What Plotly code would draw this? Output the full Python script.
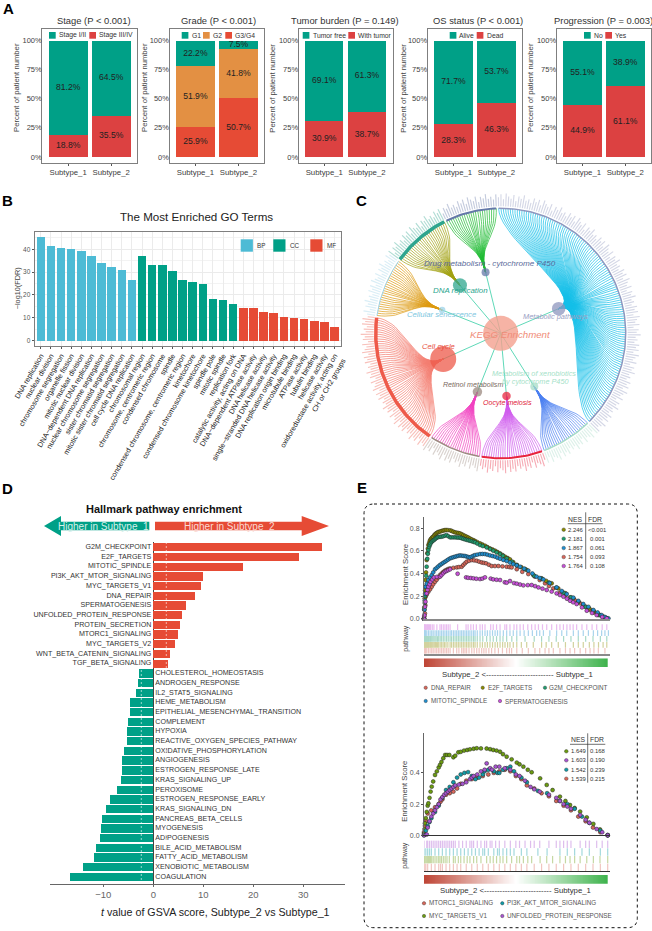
import math
import numpy as np
import plotly.graph_objects as go

W, H = 652, 931
FONT = "Liberation Sans, Arial, sans-serif"

# ---------- Panel A data ----------
subtypes = ["Subtype_1", "Subtype_2"]
a_titles = ["Stage (P < 0.001)", "Grade (P < 0.001)", "Tumor burden (P = 0.149)", "OS status (P < 0.001)", "Progression (P = 0.003)"]
a_title_x = [93.5, 218.7, 345, 477.5, 603.5]
stage_low = [81.2, 64.5]
stage_high = [18.8, 35.5]
grade_g1 = [22.2, 7.5]
grade_g2 = [51.9, 41.8]
grade_g3 = [25.9, 50.7]
tumor_free = [69.1, 61.3]
tumor_with = [30.9, 38.7]
os_alive = [71.7, 53.7]
os_dead = [28.3, 46.3]
prog_no = [55.1, 38.9]
prog_yes = [44.9, 61.1]

# ---------- Panel B data ----------
bp_terms = ["DNA replication", "nuclear division", "chromosome segregation", "organelle fission", "mitotic nuclear division",
            "DNA−dependent DNA replication", "nuclear chromosome segregation", "sister chromatid segregation",
            "mitotic sister chromatid segregation", "cell cycle DNA replication"]
bp_values = [45.5, 41.4, 40.6, 40.0, 39.3, 37.0, 34.1, 32.3, 30.8, 26.5]
cc_terms = ["chromosomal region", "chromosome, centromeric region", "condensed chromosome", "spindle",
            "condensed chromosome, centromeric region", "kinetochore", "condensed chromosome kinetochore",
            "spindle pole", "mitotic spindle", "replication fork"]
cc_values = [37.0, 33.0, 33.0, 30.7, 26.7, 25.7, 25.0, 18.2, 18.0, 16.0]
mf_terms = ["catalytic activity, acting on DNA", "DNA−dependent ATPase activity", "DNA helicase activity",
            "single−stranded DNA helicase activity", "DNA replication origin binding", "microtubule binding",
            "ATPase activity", "tubulin binding", "helicase activity",
            "oxidoreductase activity, acting on<br>CH or CH2 groups"]
mf_values = [14.5, 14.5, 12.5, 12.2, 10.2, 10.0, 9.5, 8.5, 8.0, 6.0]

# ---------- Panel C data ----------
kegg_names = ["Metabolic pathways", "Metabolism of xenobiotics", "Oocyte meiosis", "Retinol metabolism", "Cell cycle",
              "Cellular senescence", "DNA replication", "Drug metabolism - cytochrome P450"]
kegg_genes = [127, 23, 27, 23, 59, 26, 26, 23]
kegg_node_px = [13.5, 8, 8.5, 9.5, 26, 6.5, 14, 8]
kegg_ring = ["#8E96BE", "#A7DCC7", "#E8253D", "#9C8A80", "#EE5A4A", "#9CD3E8", "#2EA58E", "#6478A8"]
kegg_fan = ["#12BEE8", "#4A80F0", "#D05CEE", "#F040C0", "#F47C70", "#DC9A10", "#A0A010", "#20BC34"]
kegg_ring_w = [1.5, 1.5, 2, 1.5, 3.5, 1, 3.5, 2]
gene_tip_px = [9, 12, 7, 13, 10, 8, 12, 6, 11, 9, 13, 8, 10, 7, 12]

# ---------- Panel D data ----------
up_paths = ["G2M_CHECKPOINT", "E2F_TARGETS", "MITOTIC_SPINDLE", "PI3K_AKT_MTOR_SIGNALING", "MYC_TARGETS_V1", "DNA_REPAIR",
            "SPERMATOGENESIS", "UNFOLDED_PROTEIN_RESPONSE", "PROTEIN_SECRETION", "MTORC1_SIGNALING", "MYC_TARGETS_V2",
            "WNT_BETA_CATENIN_SIGNALING", "TGF_BETA_SIGNALING"]
up_t = [33.8, 29.2, 17.9, 9.9, 9.5, 8.4, 6.5, 5.8, 5.3, 5.0, 4.4, 3.4, 2.9]
down_paths = ["CHOLESTEROL_HOMEOSTASIS", "ANDROGEN_RESPONSE", "IL2_STAT5_SIGNALING", "HEME_METABOLISM",
              "EPITHELIAL_MESENCHYMAL_TRANSITION", "COMPLEMENT", "HYPOXIA", "REACTIVE_OXYGEN_SPECIES_PATHWAY",
              "OXIDATIVE_PHOSPHORYLATION", "ANGIOGENESIS", "ESTROGEN_RESPONSE_LATE", "KRAS_SIGNALING_UP", "PEROXISOME",
              "ESTROGEN_RESPONSE_EARLY", "KRAS_SIGNALING_DN", "PANCREAS_BETA_CELLS", "MYOGENESIS", "ADIPOGENESIS",
              "BILE_ACID_METABOLISM", "FATTY_ACID_METABOLISM", "XENOBIOTIC_METABOLISM", "COAGULATION"]
down_t = [-2.8, -3.1, -3.5, -4.7, -4.7, -5.05, -5.25, -5.25, -5.9, -6.2, -6.3, -6.4, -7.25, -8.6, -9.45, -10.25, -10.4,
          -10.6, -11.5, -11.8, -14.05, -16.65]
t_cutoffs = [-2.4, 2.6]

# ---------- Panel E data (rank fraction, enrichment score) ----------
e2f_targets = [(0, 0), (.002, .1), (.004, .18), (.006, .25), (.009, .342), (.011, .41), (.0145, .519), (.018, .58), (.021, .62), (.024, .652),
    (.028, .67), (.032, .69), (.036, .702), (.04, .71), (.045, .72), (.05, .726), (.056, .74), (.062, .75), (.068, .757), (.074, .764), (.08, .768),
    (.088, .772), (.096, .776), (.104, .78), (.112, .783), (.12, .785), (.13, .784), (.142, .782), (.15, .777), (.16, .77), (.169, .764), (.178, .761),
    (.187, .758), (.196, .755), (.205, .747), (.214, .74), (.223, .732), (.232, .725), (.241, .718), (.25, .71), (.26, .702), (.27, .694), (.278, .687),
    (.29, .678), (.305, .667), (.318, .656), (.332, .646), (.345, .634), (.359, .622), (.373, .612), (.387, .602), (.4, .59), (.414, .578), (.428, .563),
    (.441, .549), (.455, .537), (.468, .525), (.486, .5), (.505, .475), (.53, .455), (.559, .431), (.595, .386), (.64, .357), (.665, .335), (.695, .313),
    (.731, .268), (.77, .225), (.813, .18), (.84, .15), (.867, .12), (.9, .09), (.925, .065), (.95, .04), (.975, .02), (.995, .003)]
g2m_checkpoint = [(0, 0), (.002, .08), (.004, .14), (.006, .2), (.009, .283), (.012, .38), (.0145, .46), (.018, .53), (.021, .575), (.024, .608),
    (.028, .635), (.032, .652), (.036, .667), (.042, .68), (.048, .69), (.054, .696), (.06, .705), (.066, .713), (.073, .72), (.08, .723), (.088, .725),
    (.096, .726), (.105, .73), (.114, .735), (.123, .74), (.132, .73), (.142, .72), (.15, .72), (.16, .72), (.169, .72), (.178, .719), (.187, .718),
    (.196, .717), (.205, .712), (.214, .707), (.223, .702), (.232, .698), (.241, .694), (.25, .69), (.26, .685), (.27, .68), (.278, .676), (.29, .665),
    (.305, .652), (.32, .643), (.341, .631), (.36, .616), (.377, .602), (.395, .587), (.414, .572), (.43, .556), (.45, .534), (.478, .505), (.505, .475),
    (.55, .44), (.6, .38), (.64, .355), (.68, .32), (.72, .275), (.76, .23), (.8, .19), (.84, .15), (.88, .105), (.92, .07), (.96, .03), (.995, .005)]
mitotic_spindle = [(0, 0), (.002, .08), (.004, .16), (.006, .22), (.009, .283), (.015, .31), (.024, .342), (.033, .365), (.042, .386), (.05, .41), (.06, .437),
    (.069, .45), (.078, .463), (.087, .475), (.096, .485), (.105, .495), (.114, .504), (.123, .514), (.132, .524), (.142, .534), (.15, .539), (.16, .544),
    (.169, .549), (.178, .553), (.187, .557), (.196, .56), (.205, .558), (.214, .556), (.223, .555), (.232, .55), (.241, .546), (.25, .543), (.26, .55),
    (.27, .558), (.278, .563), (.29, .567), (.305, .572), (.318, .573), (.332, .572), (.345, .567), (.359, .56), (.373, .555), (.387, .549), (.4, .54),
    (.414, .531), (.432, .52), (.45, .51), (.468, .497), (.486, .484), (.505, .472), (.523, .46), (.545, .443), (.568, .425), (.59, .4), (.613, .372),
    (.63, .36), (.65, .348), (.685, .315), (.722, .277), (.75, .245), (.777, .218), (.813, .186), (.84, .158), (.867, .13), (.895, .105), (.922, .077),
    (.945, .055), (.967, .032), (.985, .015), (1.004, .003)]
dna_repair = [(0, 0), (.002, .02), (.005, .047), (.007, .12), (.009, .195), (.015, .215), (.024, .239), (.033, .26), (.042, .283), (.05, .305), (.06, .327),
    (.069, .345), (.078, .365), (.087, .386), (.096, .4), (.105, .413), (.114, .425), (.123, .432), (.132, .44), (.142, .445), (.16, .45), (.178, .454),
    (.19, .457), (.205, .46), (.214, .475), (.223, .49), (.232, .504), (.245, .512), (.26, .519), (.273, .516), (.287, .513), (.3, .505), (.314, .498),
    (.326, .494), (.338, .49), (.353, .478), (.368, .466), (.386, .466), (.405, .466), (.427, .463), (.45, .46), (.465, .457), (.477, .454), (.505, .438),
    (.535, .415), (.568, .395), (.604, .372), (.63, .342), (.659, .313), (.68, .29), (.704, .268), (.74, .23), (.77, .208), (.795, .189), (.82, .165),
    (.85, .136), (.88, .105), (.904, .077), (.925, .055), (.949, .032), (.985, .012)]
spermatogenesis = [(0, 0), (.002, .03), (.005, .106), (.008, .15), (.0145, .224), (.019, .255), (.024, .283), (.03, .305), (.036, .327), (.045, .347), (.054, .366),
    (.07, .37), (.087, .372), (.095, .385), (.105, .402), (.114, .416), (.123, .423), (.132, .43), (.142, .437), (.183, .398), (.229, .366), (.24, .362),
    (.255, .36), (.269, .357), (.285, .354), (.305, .351), (.318, .355), (.332, .366), (.363, .355), (.377, .348), (.395, .345), (.414, .342), (.44, .322),
    (.45, .319), (.468, .333), (.49, .315), (.505, .31), (.523, .302), (.541, .295), (.565, .297), (.586, .298), (.605, .288), (.623, .277), (.645, .266),
    (.668, .254), (.695, .24), (.722, .224), (.74, .21), (.759, .195), (.778, .177), (.795, .159), (.812, .145), (.831, .13), (.86, .1), (.886, .071),
    (.915, .05), (.94, .032), (.97, .015), (.995, .003)]

myc_targets_v1 = [(0, .01), (.003, .04), (.005, .077), (.01, .11), (.015, .15), (.02, .19), (.024, .205), (.03, .24), (.036, .28),
    (.042, .312), (.05, .345), (.06, .387), (.07, .41), (.08, .435), (.087, .451), (.095, .47), (.105, .494), (.115, .515),
    (.125, .515), (.138, .515), (.16, .5), (.17, .51), (.187, .532), (.2, .535), (.218, .543), (.235, .547), (.25, .551), (.27, .555),
    (.287, .558), (.31, .557), (.341, .556), (.36, .552), (.377, .547), (.395, .543), (.414, .536), (.43, .52), (.45, .504),
    (.477, .487), (.505, .466), (.52, .455), (.541, .44), (.565, .42), (.586, .404), (.632, .365), (.668, .323), (.7, .29), (.74, .248),
    (.77, .22), (.795, .194), (.82, .175), (.85, .152), (.886, .115), (.922, .073), (.958, .038), (1, .002)]
unfolded_protein = [(0, 0), (.015, .005), (.02, .05), (.03, .09), (.04, .12), (.05, .14), (.06, .16), (.07, .18), (.08, .2), (.09, .23),
    (.1, .245), (.11, .26), (.12, .27), (.13, .28), (.14, .29), (.15, .3), (.16, .31), (.17, .32), (.19, .325), (.21, .33), (.23, .34),
    (.25, .36), (.26, .37), (.27, .38), (.29, .39), (.31, .41), (.33, .42), (.341, .461), (.36, .43), (.37, .42), (.39, .44), (.41, .44),
    (.44, .43), (.47, .42), (.5, .39), (.52, .38), (.55, .35), (.58, .31), (.6, .295), (.63, .28), (.68, .26), (.72, .24), (.74, .22),
    (.76, .2), (.78, .185), (.8, .17), (.85, .13), (.88, .1), (.9, .08), (.94, .04), (.97, .02), (1, 0)]
pi3k_akt_mtor = [(0, 0), (.01, .03), (.02, .06), (.03, .085), (.04, .11), (.06, .15), (.08, .19), (.1, .24), (.12, .29), (.14, .31),
    (.16, .34), (.18, .37), (.2, .39), (.22, .4), (.24, .405), (.26, .38), (.28, .36), (.3, .37), (.32, .39), (.33, .41), (.35, .42),
    (.38, .41), (.4, .4), (.41, .4), (.43, .42), (.45, .43), (.47, .44), (.49, .41), (.53, .37), (.56, .34), (.62, .285), (.67, .27),
    (.74, .22), (.78, .2), (.82, .17), (.86, .12), (.9, .08), (.96, .03), (1, 0)]
mtorc1_signaling = [(0, .02), (.005, .06), (.01, .09), (.02, .14), (.04, .16), (.06, .18), (.08, .2), (.09, .215), (.1, .23), (.12, .26),
    (.14, .27), (.16, .28), (.18, .3), (.2, .33), (.23, .35), (.26, .36), (.29, .37), (.32, .38), (.35, .39), (.38, .4), (.41, .41),
    (.44, .42), (.47, .41), (.5, .38), (.53, .36), (.56, .32), (.6, .3), (.64, .27), (.68, .25), (.72, .22), (.76, .19), (.8, .16),
    (.84, .12), (.88, .09), (.92, .05), (.96, .02), (1, 0)]

gsea_up_names = ["DNA_REPAIR", "E2F_TARGETS", "G2M_CHECKPOINT", "MITOTIC_SPINDLE", "SPERMATOGENESIS"]
gsea_up_nes = ["2.246", "2.181", "1.867", "1.754", "1.764"]
gsea_up_fdr = ["<0.001", "0.001", "0.061", "0.093", "0.108"]
gsea_low_names = ["MTORC1_SIGNALING", "PI3K_AKT_MTOR_SIGNALING", "MYC_TARGETS_V1", "UNFOLDED_PROTEIN_RESPONSE"]
gsea_low_nes = ["1.649", "1.603", "1.542", "1.539"]
gsea_low_fdr = ["0.168", "0.190", "0.239", "0.215"]

# ---------- colours ----------
GREEN, RED, ORANGE, STRED = "#00A087", "#E64B35", "#E39043", "#DC4141"
BLUE = "#4DBBD5"
FRAME = "#7F7F7F"
C_RED, C_OLIVE, C_GRN, C_BLU, C_MAG = "#D9675A", "#8B8B00", "#1F9E6F", "#1F8FD0", "#C850D8"
C2_OL, C2_PU, C2_TE = "#6B9B10", "#A855D0", "#109CA8"

fig = go.Figure()
layout = dict(width=W, height=H, margin=dict(l=0, r=0, t=0, b=0, autoexpand=False), paper_bgcolor="white", plot_bgcolor="rgba(0,0,0,0)",
              font=dict(family=FONT, color="#333"), barmode="stack", showlegend=False, hovermode=False)
ann, shp = [], []


def X(p):
    return p / W


def Y(p):
    return 1 - p / H


def txt(x, y, s, size, color="#333", anchor="center", angle=0, bold=False, italic=False):
    if bold:
        s = f"<b>{s}</b>"
    if italic:
        s = f"<i>{s}</i>"
    ann.append(dict(x=X(x), y=Y(y), xref="paper", yref="paper", text=s, showarrow=False, xanchor=anchor, yanchor="middle",
                    textangle=angle, font=dict(size=size, color=color, family=FONT), borderpad=0, borderwidth=0))


def rect(x0, y0, x1, y1, fill):
    shp.append(dict(type="rect", xref="paper", yref="paper", x0=X(x0), x1=X(x1), y0=Y(y0), y1=Y(y1), fillcolor=fill,
                    line=dict(width=0)))


def seg(x0, y0, x1, y1, color, width=1, dash="solid"):
    shp.append(dict(type="line", xref="paper", yref="paper", x0=X(x0), x1=X(x1), y0=Y(y0), y1=Y(y1),
                    line=dict(color=color, width=width, dash=dash)))


def dot(x, y, r, fill):
    shp.append(dict(type="circle", xref="paper", yref="paper", x0=X(x - r), x1=X(x + r), y0=Y(y - r), y1=Y(y + r), fillcolor=fill,
                    line=dict(color="#333", width=0.4)))


def axes(i, x0, x1, y0, y1, xc, yc):
    layout[f"xaxis{i}"] = dict(domain=[x0 / W, x1 / W], anchor=f"y{i}", **xc)
    layout[f"yaxis{i}"] = dict(domain=[1 - y1 / H, 1 - y0 / H], anchor=f"x{i}", **yc)


for letter, lx, ly in [("A", 8, 8), ("B", 7, 200), ("C", 361, 200), ("D", 7, 488), ("E", 362, 487)]:
    txt(lx, ly, letter, 15, "#000", bold=True)

# ---------- Panel A ----------
a_panels = [
    (42.3, 137, [(stage_high, STRED), (stage_low, GREEN)],
     [(49, "Stage I/II", 59, GREEN), (89.3, "Stage III/IV", 99, STRED)], 16),
    (169.5, 264.3, [(grade_g3, RED), (grade_g2, ORANGE), (grade_g1, GREEN)],
     [(181.7, "G1", 191.7, GREEN), (203, "G2", 212.7, ORANGE), (225.3, "G3/G4", 235, RED)], 144),
    (298.7, 392.5, [(tumor_with, STRED), (tumor_free, GREEN)],
     [(302.7, "Tumor free", 312.7, GREEN), (348.3, "With tumor", 357.7, STRED)], 271.7),
    (427.7, 522.3, [(os_dead, STRED), (os_alive, GREEN)],
     [(449.7, "Alive", 459.3, GREEN), (476.7, "Dead", 486.7, STRED)], 402.7),
    (556.7, 651, [(prog_yes, STRED), (prog_no, GREEN)],
     [(584, "No", 594, GREEN), (605.3, "Yes", 615.3, STRED)], 530),
]
for k, (x0, x1, stack, leg, ylab_x) in enumerate(a_panels):
    i = k + 1
    base = [0.0, 0.0]
    xa, ya = f"x{i}", f"y{i}"
    mids_x, mids_y, mids_t = [], [], []
    for vals, col in stack:
        fig.add_trace(go.Bar(x=subtypes, y=vals, marker=dict(color=col, line=dict(width=0)), width=0.9, xaxis=xa, yaxis=ya))
        for j, v in enumerate(vals):
            mids_x.append(subtypes[j])
            mids_y.append(base[j] + v / 2)
            mids_t.append(f"{v}%")
            base[j] += v
    fig.add_trace(go.Scatter(x=mids_x, y=mids_y, text=mids_t, mode="text", textfont=dict(size=8.6, color="#222"), xaxis=xa, yaxis=ya,
                             cliponaxis=False))
    axes(i, x0, x1, 29, 163,
         dict(range=[-0.6, 1.6], showline=True, mirror=True, linecolor=FRAME, linewidth=1.2, showgrid=False, zeroline=False,
              ticks="outside", ticklen=1.5, tickwidth=0.6, tickcolor="#555", tickfont=dict(size=7.8, color="#3d3d3d")),
         dict(range=[-5.2, 110], tickvals=[0, 25, 50, 75, 100], ticktext=["0%", "25%", "50%", "75%", "100%"], showline=True,
              mirror=True, linecolor=FRAME, linewidth=1.2, showgrid=False, zeroline=False, ticks="", ticklabelstandoff=-2,
              tickfont=dict(size=7.5, color="#444")))
    txt(a_title_x[k], 21, a_titles[k], 9.4, "#333")
    txt(ylab_x, 88, "Percent of patient number", 7.7, "#444", angle=-90)
    for rx, label, tx, col in leg:
        rect(rx, 32, rx + 6.7, 38.7, col)
        txt(tx, 35.4, label, 6.8, "#333", anchor="left")

# ---------- Panel B ----------
all_terms = bp_terms + cc_terms + mf_terms
for terms, vals, col in [(bp_terms, bp_values, BLUE), (cc_terms, cc_values, GREEN), (mf_terms, mf_values, RED)]:
    fig.add_trace(go.Bar(x=terms, y=vals, marker=dict(color=col, line=dict(width=0)), width=0.84, xaxis="x6", yaxis="y6"))
axes(6, 34.7, 341, 231.7, 345.7,
     dict(type="category", categoryorder="array", categoryarray=all_terms, range=[-0.6, 29.64], showline=True, mirror=True,
          linecolor=FRAME, linewidth=1.2, showgrid=True, gridcolor="#EBEBEB", gridwidth=0.6, ticks="outside", ticklen=2,
          tickwidth=0.6, tickcolor="#555", tickangle=-60, tickfont=dict(size=7.3, color="#222"), tickmode="array",
          tickvals=all_terms, ticktext=all_terms),
     dict(range=[-2.2, 47.7], tickvals=[0, 10, 20, 30, 40], showline=True, mirror=True, linecolor=FRAME, linewidth=1.2,
          showgrid=True, gridcolor="#EBEBEB", gridwidth=0.6, zeroline=False, ticks="outside", ticklen=2, tickwidth=0.6,
          tickcolor="#555", tickfont=dict(size=6.5, color="#555"), minor=dict(dtick=5, showgrid=True, gridcolor="#F3F3F3", gridwidth=0.4)))
txt(197, 217, "The Most Enriched GO Terms", 11.6, "#222")
txt(17.3, 288, "−log10(FDR)", 7.3, "#444", angle=-90)
for rx, label, tx, col in [(240.7, "BP", 257, BLUE), (273.3, "CC", 290, GREEN), (310.3, "MF", 327.3, RED)]:
    rect(rx, 239.3, rx + 12.2, 251.7, col)
    txt(tx, 245.7, label, 6.3, "#333", anchor="left")

# ---------- Panel C ----------
CX, CY = 500.7, 333.3
R, RN = 125.0, 63.0
unit_deg = 360.0 / sum(kegg_genes)


def pol(r, deg):
    a = math.radians(deg)
    return r * math.sin(a), r * math.cos(a)


t_steps = np.linspace(0, 1, 22)
start = -1.5
for k, n in enumerate(kegg_genes):
    th0 = start + n * unit_deg / 2
    nx, ny = pol(RN, th0)
    fx, fy, tx, ty, rx, ry = [], [], [], [], [], []
    for g in range(n):
        th = start + (g + 0.5) * unit_deg
        p1 = pol((RN + R) / 2, th0)
        p2 = pol((RN + R) / 2, th)
        p3 = pol(R, th)
        for t in t_steps:
            u = 1 - t
            fx.append(u**3 * nx + 3 * u * u * t * p1[0] + 3 * u * t * t * p2[0] + t**3 * p3[0])
            fy.append(u**3 * ny + 3 * u * u * t * p1[1] + 3 * u * t * t * p2[1] + t**3 * p3[1])
        fx.append(None)
        fy.append(None)
        a = pol(R + 2, th)
        b = pol(R + 2 + gene_tip_px[(g + k) % len(gene_tip_px)], th)
        tx += [a[0], b[0], None]
        ty += [a[1], b[1], None]
        c = pol(R, th)
        rx.append(c[0])
        ry.append(c[1])
    fig.add_trace(go.Scatter(x=fx, y=fy, mode="lines", line=dict(color=kegg_fan[k], width=0.7), xaxis="x7", yaxis="y7"))
    fig.add_trace(go.Scatter(x=tx, y=ty, mode="lines", line=dict(color=kegg_ring[k], width=1.1), opacity=0.38, xaxis="x7", yaxis="y7"))
    fig.add_trace(go.Scatter(x=rx, y=ry, mode="lines", line=dict(color=kegg_ring[k], width=kegg_ring_w[k]), xaxis="x7", yaxis="y7"))
    fig.add_trace(go.Scatter(x=[0, nx], y=[0, ny], mode="lines", line=dict(color="#5FD9B8", width=1), xaxis="x7", yaxis="y7"))
    fig.add_trace(go.Scatter(x=[nx], y=[ny], mode="markers", marker=dict(size=kegg_node_px[k], color=kegg_ring[k], opacity=0.75, line=dict(width=0)),
                             xaxis="x7", yaxis="y7"))
    start += n * unit_deg
fig.add_trace(go.Scatter(x=[0], y=[0], mode="markers", marker=dict(size=35, color="#F4A08E", opacity=0.8, line=dict(width=0)), xaxis="x7", yaxis="y7"))
hidden = dict(visible=False, showgrid=False, zeroline=False)
axes(7, 350, 652, 185, 480, dict(range=[350 - CX, 652 - CX], **hidden), dict(range=[CY - 480, CY - 185], **hidden))
txt(510, 334.7, "KEGG Enrichment", 9.7, "#F08C78", italic=True)
txt(490, 264, "Drug metabolism - cytochrome P450", 8.1, "#5A6A9A", italic=True)
txt(460, 290.7, "DNA replication", 7.9, "#2AA58E", italic=True)
txt(441.7, 314.3, "Cellular senescence", 7.7, "#7CC6E0", italic=True)
txt(555, 316, "Metabolic pathways", 7.4, "#9AA0C4", italic=True)
txt(438.3, 346, "Cell cycle", 7.7, "#E8503F", italic=True)
txt(473.3, 385, "Retinol metabolism", 7.1, "#7A6A60", italic=True)
txt(507.3, 402.7, "Oocyte meiosis", 7.1, "#E0203A", italic=True)
txt(534.3, 373.3, "Metabolism of xenobiotics", 7.3, "#A5DFC8", italic=True)
txt(535, 381.7, "by cytochrome P450", 7.3, "#A5DFC8", italic=True)

# ---------- Panel D ----------
up_rows = list(range(len(up_paths)))
down_rows = [len(up_paths) + r for r in range(len(down_paths))]
fig.add_trace(go.Bar(x=up_t, y=up_rows, orientation="h", width=0.86, marker=dict(color=RED, line=dict(width=0)), xaxis="x8", yaxis="y8"))
fig.add_trace(go.Bar(x=down_t, y=down_rows, orientation="h", width=0.86, marker=dict(color=GREEN, line=dict(width=0)), xaxis="x8", yaxis="y8"))
fig.add_trace(go.Scatter(x=[-0.4] * len(up_paths), y=up_rows, text=up_paths, mode="text", textposition="middle left",
                         textfont=dict(size=7.1, color="#333"), cliponaxis=False, xaxis="x8", yaxis="y8"))
fig.add_trace(go.Scatter(x=[0.4] * len(down_paths), y=down_rows, text=down_paths, mode="text", textposition="middle right",
                         textfont=dict(size=7.1, color="#333"), cliponaxis=False, xaxis="x8", yaxis="y8"))
axes(8, 50, 345, 541.7, 884,
     dict(range=[-20.66, 38.34], tickvals=[-10, 0, 10, 20, 30], ticktext=["−10", "0", "10", "20", "30"], showline=True, linecolor="#666",
          linewidth=1, showgrid=False, zeroline=True, zerolinecolor="#444", zerolinewidth=1, ticks="outside", ticklen=2, tickwidth=0.8,
          tickcolor="#666", tickfont=dict(size=9.5, color="#666")),
     dict(range=[34.72, -0.58], visible=False, showgrid=False, zeroline=False))
for c in t_cutoffs:
    shp.append(dict(type="line", xref="x8", yref="paper", x0=c, x1=c, y0=Y(884), y1=Y(543), line=dict(color="white", width=0.6, dash="2px,2px")))
txt(164, 509.3, "Hallmark pathway enrichment", 11, "#111", bold=True)


def poly(pts, fill):
    p = "M " + " L ".join(f"{X(a):.5f},{Y(b):.5f}" for a, b in pts) + " Z"
    shp.append(dict(type="path", xref="paper", yref="paper", path=p, fillcolor=fill, line=dict(width=0)))


poly([(44, 526), (61, 516), (61, 521.7), (149.3, 521.7), (149.3, 530.3), (61, 530.3), (61, 536)], GREEN)
poly([(155, 521.7), (301.7, 521.7), (301.7, 516), (329, 526), (301.7, 536), (301.7, 530.3), (155, 530.3)], RED)
txt(103, 526, "Higher in Subtype  1", 10, "#D6EFE9")
txt(229.7, 526, "Higher in Subtype  2", 10, "#FAD9D2")
txt(216, 912, "<i>t</i> value of GSVA score, Subtype_2 vs Subtype_1", 10.7, "#222")

# ---------- Panel E ----------
bx0, by0, bx1, by1, br = 364, 504, 637.3, 927.7, 10
border = (f"M {X(bx0+br)},{Y(by0)} L {X(bx1-br)},{Y(by0)} Q {X(bx1)},{Y(by0)} {X(bx1)},{Y(by0+br)} L {X(bx1)},{Y(by1-br)} "
          f"Q {X(bx1)},{Y(by1)} {X(bx1-br)},{Y(by1)} L {X(bx0+br)},{Y(by1)} Q {X(bx0)},{Y(by1)} {X(bx0)},{Y(by1-br)} "
          f"L {X(bx0)},{Y(by0+br)} Q {X(bx0)},{Y(by0)} {X(bx0+br)},{Y(by0)} Z")
shp.append(dict(type="path", xref="paper", yref="paper", path=border, line=dict(color="#111", width=1, dash="dot")))

grad_steps = np.linspace(0, 1, 220).tolist()
grad_scale = [[0, "#BE4434"], [0.5, "#FFFFFF"], [1, "#3DB24B"]]


def gsea(ax_main, ax_rug, ax_bar, series, main_box, rug_box, bar_box, ymax, yticks, axis_color, axis_w):
    for pts, col in series:
        fig.add_trace(go.Scatter(x=[p[0] for p in pts], y=[p[1] for p in pts], mode="markers", cliponaxis=False,
                                 marker=dict(size=3.9, color=col, line=dict(color="#222", width=0.5)),
                                 xaxis=f"x{ax_main}", yaxis=f"y{ax_main}"))
    n = len(series)
    for row, (pts, col) in enumerate(series):
        rx, ry = [], []
        for p in pts:
            rx += [p[0], p[0], None]
            ry += [row, row + 0.96, None]
        fig.add_trace(go.Scatter(x=rx, y=ry, mode="lines", line=dict(color=col, width=1.2), opacity=0.38,
                                 xaxis=f"x{ax_rug}", yaxis=f"y{ax_rug}"))
    fig.add_trace(go.Heatmap(x=grad_steps, y=[0], z=[grad_steps], colorscale=grad_scale, showscale=False, zmin=0, zmax=1,
                             xaxis=f"x{ax_bar}", yaxis=f"y{ax_bar}"))
    xr = [0, 186 / 183.7]
    axes(ax_main, 424, 610, main_box[0], main_box[1],
         dict(range=xr, showline=True, linecolor=axis_color, linewidth=axis_w, showticklabels=False, showgrid=False, zeroline=False, ticks=""),
         dict(range=[0, ymax], tickvals=yticks, tickformat=".1f", showline=True, linecolor="#666", linewidth=1, showgrid=False, zeroline=False,
              ticks="outside", ticklen=2, tickwidth=0.6, tickcolor="#555", tickfont=dict(size=7, color="#555")))
    axes(ax_rug, 424, 610, rug_box[0], rug_box[1],
         dict(range=xr, showline=True, linecolor=axis_color, linewidth=axis_w, showticklabels=False, showgrid=False, zeroline=False, ticks=""),
         dict(range=[0, n], visible=False, showgrid=False, zeroline=False))
    axes(ax_bar, 424, 607.7, bar_box[0], bar_box[1],
         dict(range=[0, 1], visible=False, showgrid=False, zeroline=False),
         dict(range=[-0.5, 0.5], visible=False, showgrid=False, zeroline=False))


gsea(9, 10, 11,
     [(dna_repair, C_RED), (e2f_targets, C_OLIVE), (g2m_checkpoint, C_GRN), (mitotic_spindle, C_BLU), (spermatogenesis, C_MAG)],
     (516.7, 618.7), (624, 653.7), (658.3, 667), 102 / 113, [0, 0.2, 0.4, 0.6, 0.8], "#8A8A8A", 1.6)
gsea(12, 13, 14,
     [(mtorc1_signaling, C_RED), (myc_targets_v1, C2_OL), (pi3k_akt_mtor, C2_TE), (unfolded_protein, C2_PU)],
     (733.3, 835.3), (840.3, 871), (875, 883.7), 102 / 156, [0, 0.2, 0.4], "#333", 1)

txt(405, 575, "Enrichment Score", 7.7, "#444", angle=-90)
txt(405.7, 638, "pathway", 7, "#444", angle=-90)
txt(405, 791.7, "Enrichment Score", 7.7, "#444", angle=-90)
txt(405, 855.7, "pathway", 7, "#444", angle=-90)
dash_txt = "Subtype_2 &lt;" + "-" * 26 + " Subtype_1"
txt(517, 674, dash_txt, 7.8, "#333")
txt(515.7, 890.7, dash_txt, 7.8, "#333")

# statistic tables
for rows, mx, nx_, fx_, cols, nes, fdr, hy, hn, hf, ux0, ux1, uy, vx, vy0, vy1 in [
    ([529.7, 538.7, 548, 557, 566], 563.7, 575, 597.3, [C_OLIVE, C_GRN, C_BLU, C_RED, C_MAG], gsea_up_nes, gsea_up_fdr,
     519, 575, 595, 567.7, 602.7, 523.7, 585.7, 512.3, 569),
    ([751.3, 760.3, 769.7, 778.7], 566.3, 578, 597.7, [C2_OL, C2_PU, C2_TE, C_RED], gsea_low_nes, gsea_low_fdr,
     739.3, 577.7, 597, 570, 605.3, 744.3, 587.7, 733.3, 782.7)]:
    txt(hn, hy, "NES", 6.8, "#333")
    txt(hf, hy, "FDR", 6.8, "#333")
    seg(ux0, uy, ux1, uy, "#333", 0.7)
    seg(vx, vy0, vx, vy1, "#333", 0.7)
    for ry, c, a, b in zip(rows, cols, nes, fdr):
        dot(mx, ry, 1.8, c)
        txt(nx_, ry, a, 5.9, "#333")
        txt(fx_, ry, b, 5.9, "#333")

# legends under each GSEA panel
for name, mx, tx, ly, c in [
    (gsea_up_names[0], 425.7, 430.7, 687.7, C_RED), (gsea_up_names[1], 482.7, 487.7, 687.7, C_OLIVE),
    (gsea_up_names[2], 545, 549.3, 687.7, C_GRN), (gsea_up_names[3], 425.7, 430.7, 701, C_BLU), (gsea_up_names[4], 500, 505, 701, C_MAG),
    (gsea_low_names[0], 424, 428.7, 903.3, C_RED), (gsea_low_names[1], 502.3, 506.7, 903.3, C2_TE),
    (gsea_low_names[2], 424, 428.7, 916, C2_OL), (gsea_low_names[3], 502.3, 506.7, 916, C2_PU)]:
    dot(mx, ly, 1.7, c)
    txt(tx, ly, name, 6.3, "#555", anchor="left")

layout["annotations"] = ann
layout["shapes"] = shp
fig.update_layout(**layout)
fig.write_html("out.html", config={"displayModeBar": False},
               post_script="document.body.style.margin='0';document.documentElement.style.overflow='hidden';")
